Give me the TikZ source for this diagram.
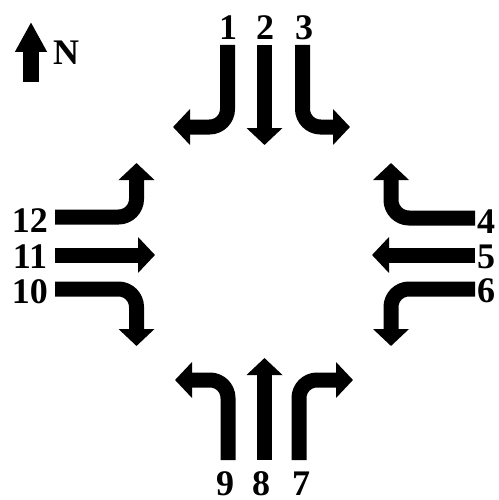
\documentclass[tikz,border=0pt]{standalone}
\usepackage{fontspec}
\setmainfont{Liberation Serif}
\usetikzlibrary{arrows.meta}
\begin{document}
\begin{tikzpicture}[x=1pt,y=-1pt,
  lane/.style={line width=15pt, rounded corners=18pt, -{Triangle[width=35pt,length=17pt]}},
  lbl/.style={anchor=base, inner sep=0pt, text depth=0pt, font=\fontsize{36}{36}\selectfont\bfseries}]
\useasboundingbox (0,0) rectangle (498,500);
% north arrow
\draw[line width=16pt, -{Triangle[width=30pt,length=30pt]}] (31,82) -- (31,22);
\node[lbl] (N) at (66,65) {N};
% top
\draw[lane] (227.5,45) -- (227.5,127) -- (173,127);
\draw[lane] (264.5,45) -- (264.5,145);
\draw[lane] (302.5,45) -- (302.5,127) -- (350,127);
\node[lbl] (l1) at (228,40) {1};
\node[lbl] (l2) at (265,40) {2};
\node[lbl] (l3) at (304,40) {3};
% left
\draw[lane] (55,217) -- (136.5,217) -- (136.5,163);
\draw[lane] (55,255) -- (155,255);
\draw[lane] (55,289) -- (136.5,289) -- (136.5,346);
\node[lbl] (l12) at (30,232) {12};
\node[lbl] (l11) at (30,268) {11};
\node[lbl] (l10) at (30,303) {10};
% right
\draw[lane] (475,218) -- (391,218) -- (391,163);
\draw[lane] (475,255) -- (372,255);
\draw[lane] (475,289) -- (391,289) -- (391,346);
\node[lbl] (l4) at (486,233) {4};
\node[lbl] (l5) at (486,268) {5};
\node[lbl] (l6) at (486,302) {6};
% bottom
\draw[lane] (228,460) -- (228,380) -- (175,380);
\draw[lane] (264.5,460) -- (264.5,358);
\draw[lane] (299,460) -- (299,380) -- (353,380);
\node[lbl] (l9) at (225,495) {9};
\node[lbl] (l8) at (261,495) {8};
\node[lbl] (l7) at (301,495) {7};
\end{tikzpicture}
\end{document}
